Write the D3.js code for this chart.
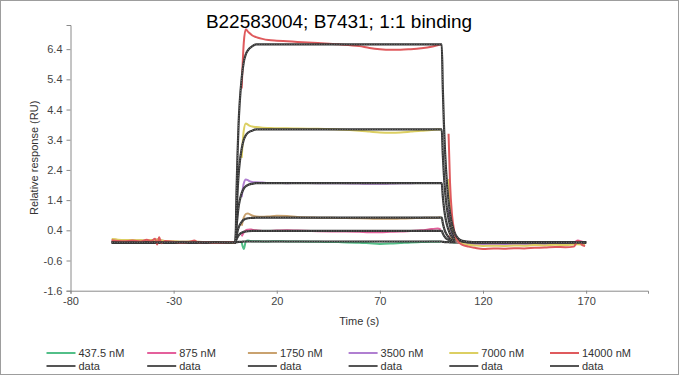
<!DOCTYPE html>
<html>
<head>
<meta charset="utf-8">
<script src="https://cdn.jsdelivr.net/npm/d3@7"></script>
<style>
    body { margin: 0; background: #fff; }
    text { font-family: "Liberation Sans", Arial, sans-serif; }
    .tick text { fill: #444; font-size: 11px; }
    .domain, .tick line { stroke: #8a8a8a; }
</style>
</head>
<body>
<div id="chart-area"></div>
<script>

// concentrations + colours
var concLabels = ["437.5 nM", "875 nM", "1750 nM", "3500 nM", "7000 nM", "14000 nM"];
var concColors = ["#52bf88", "#e4609c", "#c9a26f", "#b07fd1", "#dccf62", "#df5a5d"];

// axis ticks
var xTicks = [-80, -30, 20, 70, 120, 170];
var yTicks = [-1.6, -0.6, 0.4, 1.4, 2.4, 3.4, 4.4, 5.4, 6.4];

// fitted curves (black)
var fitTime = [-60, 0, 0.5, 1, 1.5, 2, 3, 4, 5, 6, 8, 10, 30, 60, 100, 100.5, 101, 101.5, 102, 103, 104, 105, 106, 108, 110, 115, 120, 170];
var fit437 = [0, 0, 0.01, 0.01, 0.02, 0.02, 0.02, 0.03, 0.03, 0.03, 0.03, 0.03, 0.03, 0.03, 0.03, 0.02, 0.02, 0.01, 0.01, 0.01, 0, 0, 0, 0, 0, 0, 0, 0];
var fit875 = [0, 0, 0.10, 0.17, 0.23, 0.27, 0.32, 0.35, 0.36, 0.37, 0.38, 0.38, 0.38, 0.38, 0.38, 0.30, 0.23, 0.18, 0.14, 0.09, 0.06, 0.03, 0.02, 0.01, 0, 0, 0, 0];
var fit1750 = [0, 0, 0.21, 0.37, 0.49, 0.57, 0.68, 0.75, 0.78, 0.80, 0.81, 0.82, 0.82, 0.82, 0.82, 0.64, 0.50, 0.39, 0.31, 0.20, 0.12, 0.07, 0.05, 0.02, 0.01, 0, 0, 0];
var fit3500 = [0, 0, 0.51, 0.88, 1.18, 1.37, 1.63, 1.78, 1.86, 1.90, 1.94, 1.96, 1.96, 1.96, 1.96, 1.53, 1.20, 0.94, 0.74, 0.47, 0.29, 0.18, 0.11, 0.04, 0.02, 0, 0, 0];
var fit7000 = [0, 0, 0.97, 1.68, 2.24, 2.62, 3.10, 3.40, 3.55, 3.63, 3.70, 3.74, 3.74, 3.74, 3.74, 2.92, 2.28, 1.80, 1.42, 0.90, 0.56, 0.34, 0.21, 0.07, 0.03, 0, 0, 0];
var fit14000 = [0, 0, 1.71, 2.95, 3.94, 4.59, 5.44, 5.97, 6.23, 6.36, 6.49, 6.56, 6.56, 6.56, 6.56, 5.12, 4.00, 3.15, 2.49, 1.57, 0.98, 0.59, 0.36, 0.13, 0.05, 0.01, 0, 0];

// measured responses, three pieces: baseline / association / dissociation
var baseTime = [-60, -57, -54, -50, -46, -43, -41, -39, -38, -37, -36, -34, -30, -26, -22, -20, -18, -14, -10, -6, -2, -0.5];
var base437 = [0.03, 0.02, 0.02, 0.01, 0.02, 0.01, 0.02, 0.01, 0.02, 0.0, 0.02, 0.01, 0.01, 0.0, 0.01, 0.0, 0.01, 0.0, 0.0, 0.01, 0.0, 0.0];
var base875 = [0.05, 0.04, 0.03, 0.04, 0.02, 0.03, 0.02, 0.04, 0.02, 0.03, 0.01, 0.02, 0.01, 0.0, 0.01, 0.02, 0.0, 0.01, 0.0, 0.01, 0.0, 0.0];
var base1750 = [0.09, 0.08, 0.07, 0.06, 0.07, 0.05, 0.08, 0.06, 0.1, 0.04, 0.07, 0.04, 0.03, 0.02, 0.03, 0.02, 0.02, 0.01, 0.01, 0.0, 0.01, 0.0];
var base3500 = [0.06, 0.05, 0.05, 0.04, 0.03, 0.04, 0.03, 0.03, 0.04, 0.02, 0.03, 0.02, 0.01, 0.02, 0.01, 0.0, 0.01, 0.0, 0.0, 0.0, 0.01, 0.0];
var base7000 = [0.11, 0.09, 0.08, 0.08, 0.07, 0.06, 0.07, 0.05, 0.09, 0.05, 0.06, 0.04, 0.03, 0.02, 0.02, 0.03, 0.01, 0.01, 0.0, 0.01, 0.0, 0.0];
var base14000 = [0.07, 0.05, 0.04, 0.06, 0.03, 0.09, 0.04, 0.12, -0.07, 0.17, -0.03, 0.05, 0.02, -0.01, 0.02, 0.06, 0.0, 0.01, -0.01, 0.0, 0.01, 0.0];

var assocTime = [3, 4, 5, 6, 7, 8, 10, 13, 16, 20, 25, 30, 40, 50, 60, 65, 70, 75, 80, 85, 90, 95, 98, 99.5];
var assoc437 = [0.0, -0.22, 0.03, 0.06, 0.05, 0.04, 0.04, 0.03, 0.03, 0.04, 0.03, 0.03, 0.02, 0.01, -0.01, -0.03, -0.05, -0.04, -0.02, 0.0, 0.01, 0.02, 0.02, 0.02];
var assoc875 = [0.2, 0.33, 0.4, 0.42, 0.43, 0.42, 0.4, 0.38, 0.38, 0.39, 0.4, 0.39, 0.37, 0.36, 0.35, 0.34, 0.34, 0.35, 0.36, 0.38, 0.4, 0.44, 0.46, 0.43];
var assoc1750 = [0.55, 0.82, 0.94, 0.96, 0.93, 0.89, 0.86, 0.85, 0.86, 0.88, 0.87, 0.84, 0.82, 0.81, 0.8, 0.79, 0.78, 0.78, 0.79, 0.8, 0.81, 0.82, 0.82, 0.83];
var assoc3500 = [1.5, 1.95, 2.08, 2.06, 2.02, 2.0, 1.99, 1.98, 1.97, 1.97, 1.96, 1.97, 1.96, 1.96, 1.95, 1.94, 1.94, 1.95, 1.96, 1.96, 1.97, 1.97, 1.97, 1.97];
var assoc7000 = [2.8, 3.7, 3.94, 3.9, 3.86, 3.84, 3.82, 3.8, 3.79, 3.78, 3.78, 3.77, 3.76, 3.74, 3.7, 3.67, 3.64, 3.63, 3.64, 3.67, 3.7, 3.72, 3.74, 3.74];
var assoc14000 = [5.1, 6.6, 7.06, 6.98, 6.92, 6.86, 6.8, 6.74, 6.7, 6.68, 6.66, 6.64, 6.6, 6.56, 6.5, 6.44, 6.4, 6.38, 6.38, 6.4, 6.43, 6.48, 6.53, 6.55];

var dissocTime = [103.3, 104, 105, 106, 107, 108, 110, 113, 116, 120, 125, 130, 135, 140, 145, 150, 155, 160, 164, 166, 168, 169.5];
var dissoc437 = [0.02, 0.01, 0.01, 0.0, 0.0, 0.0, -0.01, 0.0, -0.01, 0.0, -0.01, 0.0, 0.01, 0.0, -0.01, 0.0, 0.0, 0.01, 0.0, 0.02, 0.01, 0.0];
var dissoc875 = [0.22, 0.13, 0.06, 0.03, 0.01, 0.0, -0.01, -0.02, -0.03, -0.03, -0.02, -0.03, -0.02, -0.02, -0.01, -0.02, -0.01, -0.01, 0.0, 0.06, 0.02, 0.0];
var dissoc1750 = [0.47, 0.27, 0.13, 0.06, 0.02, 0.0, -0.03, -0.05, -0.06, -0.07, -0.07, -0.08, -0.07, -0.06, -0.06, -0.05, -0.05, -0.05, -0.04, -0.03, -0.04, -0.05];
var dissoc3500 = [1.1, 0.62, 0.3, 0.13, 0.05, 0.01, -0.02, -0.04, -0.05, -0.06, -0.05, -0.06, -0.05, -0.05, -0.04, -0.05, -0.04, -0.04, -0.03, 0.02, -0.03, -0.04];
var dissoc7000 = [2.1, 1.2, 0.55, 0.25, 0.1, 0.02, -0.04, -0.08, -0.1, -0.12, -0.11, -0.12, -0.1, -0.11, -0.09, -0.1, -0.08, -0.09, -0.07, -0.06, -0.07, -0.08];
var dissoc14000 = [3.6, 2.0, 0.9, 0.4, 0.15, 0.02, -0.08, -0.14, -0.18, -0.22, -0.2, -0.21, -0.19, -0.2, -0.18, -0.17, -0.15, -0.16, -0.14, 0.05, -0.08, -0.12];


/*
 *  SensorgramVis - draws the binding curves
 */

SensorgramVis = function(_parentElement) {
    this.parentElement = _parentElement;
    this.initVis();
};

SensorgramVis.prototype.initVis = function() {
    var vis = this;

    vis.totalWidth = 679;
    vis.totalHeight = 375;
    vis.margin = { top: 25, right: 31, bottom: 84.3, left: 70.5 };
    vis.width = vis.totalWidth - vis.margin.left - vis.margin.right;
    vis.height = vis.totalHeight - vis.margin.top - vis.margin.bottom;

    vis.root = d3.select("#" + vis.parentElement).append("svg")
        .attr("width", vis.totalWidth)
        .attr("height", vis.totalHeight);

    // grey frame round the whole picture
    vis.root.append("rect")
        .attr("x", 0.5).attr("y", 0.5)
        .attr("width", vis.totalWidth - 1).attr("height", vis.totalHeight - 1)
        .attr("fill", "none")
        .attr("stroke", "#9d9d9d");

    vis.svg = vis.root.append("g")
        .attr("transform", "translate(" + vis.margin.left + "," + vis.margin.top + ")");

    vis.x = d3.scaleLinear().domain([-80, 200]).range([0, vis.width]);
    vis.y = d3.scaleLinear().domain([-1.6, 7.2]).range([vis.height, 0]);

    // plain hyphen for negatives, like the original
    vis.xAxis = d3.axisBottom(vis.x).tickValues(xTicks).tickSize(3).tickPadding(4)
        .tickFormat(function(d) { return String(d); });
    vis.yAxis = d3.axisLeft(vis.y).tickValues(yTicks).tickSize(4).tickPadding(4)
        .tickFormat(function(d) { return d.toFixed(1); });

    vis.svg.append("g")
        .attr("class", "x-axis")
        .attr("transform", "translate(0," + vis.height + ")")
        .call(vis.xAxis);

    vis.svg.append("g")
        .attr("class", "y-axis")
        .call(vis.yAxis);

    vis.svg.selectAll(".domain").each(function() {
        // drop the end ticks of the domain path
        var sel = d3.select(this);
        sel.attr("d", sel.attr("d").replace(/^M-?[\d.]+,([\d.]+)H0V/, "M0,$1V"));
    });

    // titles
    vis.root.append("text")
        .attr("x", 339)
        .attr("y", 27.5)
        .attr("text-anchor", "middle")
        .attr("font-size", "19px")
        .attr("fill", "#000")
        .text("B22583004; B7431; 1:1 binding");

    vis.svg.append("text")
        .attr("x", vis.width / 2)
        .attr("y", vis.height + 34.5)
        .attr("text-anchor", "middle")
        .attr("font-size", "11px")
        .attr("fill", "#333")
        .text("Time (s)");

    vis.svg.append("text")
        .attr("transform", "rotate(-90)")
        .attr("x", -vis.height / 2)
        .attr("y", -33)
        .attr("text-anchor", "middle")
        .attr("font-size", "11px")
        .attr("fill", "#333")
        .text("Relative response (RU)");

    vis.line = d3.line()
        .x(function(d) { return vis.x(d[0]); })
        .y(function(d) { return vis.y(d[1]); })
        .curve(d3.curveMonotoneX);

    vis.wrangleData();
};

SensorgramVis.prototype.wrangleData = function() {
    var vis = this;

    var fits = [fit437, fit875, fit1750, fit3500, fit7000, fit14000];
    var bases = [base437, base875, base1750, base3500, base7000, base14000];
    var assocs = [assoc437, assoc875, assoc1750, assoc3500, assoc7000, assoc14000];
    var dissocs = [dissoc437, dissoc875, dissoc1750, dissoc3500, dissoc7000, dissoc14000];

    function pairs(times, vals) {
        return times.map(function(t, i) { return [t, vals[i]]; });
    }

    vis.displayData = concLabels.map(function(label, i) {
        return {
            label: label,
            color: concColors[i],
            raw: [pairs(baseTime, bases[i]), pairs(assocTime, assocs[i]), pairs(dissocTime, dissocs[i])],
            fit: pairs(fitTime, fits[i])
        };
    });

    vis.updateVis();
};

SensorgramVis.prototype.updateVis = function() {
    var vis = this;

    var series = vis.svg.append("g").attr("class", "series")
        .selectAll("g")
        .data(vis.displayData)
        .enter().append("g");

    // measured curves
    series.selectAll(".raw")
        .data(function(d) { return d.raw.map(function(seg) { return { seg: seg, color: d.color }; }); })
        .enter().append("path")
        .attr("class", "raw")
        .attr("d", function(d) { return vis.line(d.seg); })
        .attr("fill", "none")
        .attr("stroke", function(d) { return d.color; })
        .attr("stroke-width", 2);

    // fitted curves, drawn dark with a dotted core
    series.append("path")
        .attr("d", function(d) { return vis.line(d.fit); })
        .attr("fill", "none")
        .attr("stroke", "#333")
        .attr("stroke-width", 2.2);

    series.append("path")
        .attr("d", function(d) { return vis.line(d.fit); })
        .attr("fill", "none")
        .attr("stroke", "#8a8a8a")
        .attr("stroke-width", 0.8)
        .attr("stroke-dasharray", "1,1.5");

    // legend, two rows
    var legend = vis.root.append("g").attr("class", "legend")
        .selectAll("g")
        .data(vis.displayData)
        .enter().append("g")
        .attr("transform", function(d, i) { return "translate(" + (46.5 + i * 100.7) + ",0)"; });

    legend.append("line")
        .attr("x1", 0).attr("x2", 29)
        .attr("y1", 353).attr("y2", 353)
        .attr("stroke", function(d) { return d.color; })
        .attr("stroke-width", 2);

    legend.append("text")
        .attr("x", 32).attr("y", 357)
        .attr("font-size", "11px")
        .attr("fill", "#333")
        .text(function(d) { return d.label; });

    legend.append("line")
        .attr("x1", 0).attr("x2", 29)
        .attr("y1", 366).attr("y2", 366)
        .attr("stroke", "#555")
        .attr("stroke-width", 2);

    legend.append("text")
        .attr("x", 32).attr("y", 370)
        .attr("font-size", "11px")
        .attr("fill", "#333")
        .text("data");
};

var sensorgram = new SensorgramVis("chart-area");

</script>
</body>
</html>
